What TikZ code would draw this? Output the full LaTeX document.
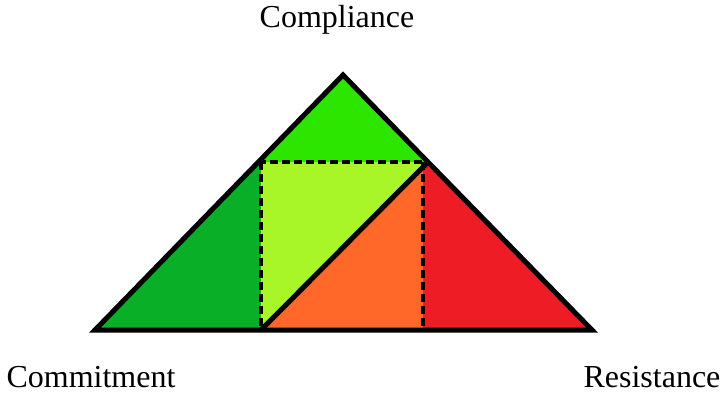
\documentclass[tikz,border=0pt]{standalone}
\usepackage{fontspec}
\setmainfont{Liberation Serif}
\begin{document}
\begin{tikzpicture}[x=1pt,y=-1pt,
  outline/.style={line width=5pt,line join=miter,black},
  divider/.style={line width=4pt,black,dash pattern=on 8pt off 4pt},
  label/.style={font=\fontsize{32}{36}\selectfont,anchor=base,inner sep=0pt}]
\useasboundingbox (0,0) rectangle (722,393);
% corners of the outer triangle
\coordinate (A) at (343,75);
\coordinate (L) at (95,330);
\coordinate (R) at (592,330);
% points where the dividers meet the sides
\coordinate (P) at (258,162);
\coordinate (Q) at (428,162);
\coordinate (Pv) at (261,162);
\coordinate (Qv) at (423,162);
\coordinate (B1) at (261,330);
\coordinate (B2) at (423,330);
% coloured regions
\fill[fill={rgb,255:red,238;green,28;blue,37}] (A) -- (L) -- (R) -- cycle;
\fill[fill={rgb,255:red,44;green,230;blue,0}] (A) -- (P) -- (Q) -- cycle;
\fill[fill={rgb,255:red,10;green,175;blue,40}] (L) -- (P) -- (Pv) -- (B1) -- cycle;
\fill[fill={rgb,255:red,168;green,245;blue,40}] (Pv) -- (Q) -- (B1) -- cycle;
\fill[fill={rgb,255:red,255;green,104;blue,40}] (B1) -- (Q) -- (Qv) -- (B2) -- cycle;
\fill[fill={rgb,255:red,238;green,28;blue,37}] (Qv) -- (Q) -- (R) -- (B2) -- cycle;
% dashed dividers
\draw[divider] (P) -- (Q);
\draw[divider] (Pv) -- (B1);
\draw[divider] (Qv) -- (B2);
% solid diagonal and outline
\draw[outline] (B1) -- (Q);
\draw[outline] (A) -- (L) -- (R) -- cycle;
% corner labels
\node[label] (top) at (337,28) {Compliance};
\node[label] (left) at (91,387) {Commitment};
\node[label] (right) at (652,387) {Resistance};
\end{tikzpicture}
\end{document}
